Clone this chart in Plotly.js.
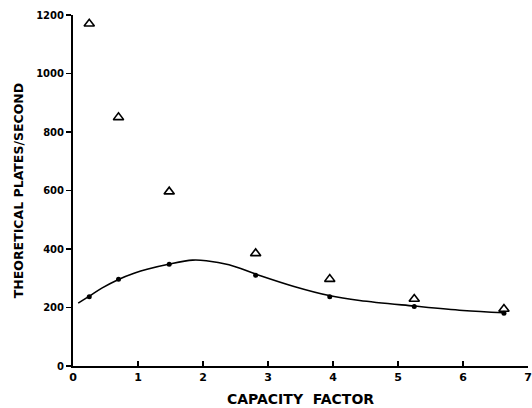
<!DOCTYPE html>
<html>
<head>
<meta charset="utf-8">
<script src="https://cdn.plot.ly/plotly-3.0.1.min.js"></script>
<style>html,body{margin:0;padding:0;background:#fff;}#chart{width:532px;height:408px;}</style>
</head>
<body>
<div id="chart"></div>
<script>
// Capacity factor of each measured point
var capacityFactor = [0.25, 0.70, 1.48, 2.81, 3.95, 5.25, 6.63];
// Triangles (open symbols)
var platesTriangle = [1170, 850, 596, 385, 297, 229, 195];
// Filled dots
var platesDot = [237, 297, 348, 310, 237, 203, 180];
// Smooth fitted curve
var curveX = [0.08, 0.24, 0.45, 0.70, 0.95, 1.14, 1.47, 1.84, 2.05, 2.4, 2.84, 3.4, 3.94, 4.41, 5.25, 6.0, 6.63];
var curveY = [215, 237, 267, 296, 318, 331, 348, 362, 360, 346, 312, 272, 241, 224, 205, 190, 182];
var xTicks = [0, 1, 2, 3, 4, 5, 6, 7];
var yTicks = [0, 200, 400, 600, 800, 1000, 1200];

var fontFam = 'DejaVu Sans, sans-serif';
var data = [
  {x: curveX, y: curveY, mode: 'lines', line: {color: '#000', width: 1.6, shape: 'spline', smoothing: 1}, hoverinfo: 'none'},
  {x: capacityFactor, y: platesDot, mode: 'markers', marker: {symbol: 'circle', size: 5, color: '#000'}},
  {x: capacityFactor, y: platesTriangle, mode: 'markers', marker: {symbol: 'triangle-up-open', size: 9, color: '#000', line: {width: 1.6, color: '#000'}}}
];
var layout = {
  width: 532, height: 408,
  margin: {l: 73, r: 4, t: 15, b: 42},
  showlegend: false,
  paper_bgcolor: '#fff', plot_bgcolor: '#fff',
  font: {family: fontFam, color: '#000'},
  xaxis: {
    range: [0, 7], tickvals: xTicks, ticktext: xTicks.map(String),
    showgrid: false, zeroline: false, showline: true, linecolor: '#000', linewidth: 2,
    ticks: 'inside', ticklen: 5, tickwidth: 1.5, tickcolor: '#000',
    tickfont: {family: fontFam, size: 11, color: '#000', weight: 'bold'},
    title: {text: 'CAPACITY&nbsp;&nbsp;FACTOR', font: {family: fontFam, size: 14, color: '#000', weight: 'bold'}, standoff: 11}
  },
  yaxis: {
    range: [0, 1200], tickvals: yTicks, ticktext: yTicks.map(String),
    showgrid: false, zeroline: false, showline: true, linecolor: '#000', linewidth: 2,
    ticks: 'outside', ticklen: 5, tickwidth: 1.5, tickcolor: '#000',
    tickfont: {family: fontFam, size: 10, color: '#000', weight: 'bold'},
    title: {text: 'THEORETICAL PLATES/SECOND', font: {family: fontFam, size: 12.5, color: '#000', weight: 'bold'}, standoff: 10}
  }
};
Plotly.newPlot('chart', data, layout, {staticPlot: true, displayModeBar: false});
</script>
</body>
</html>
